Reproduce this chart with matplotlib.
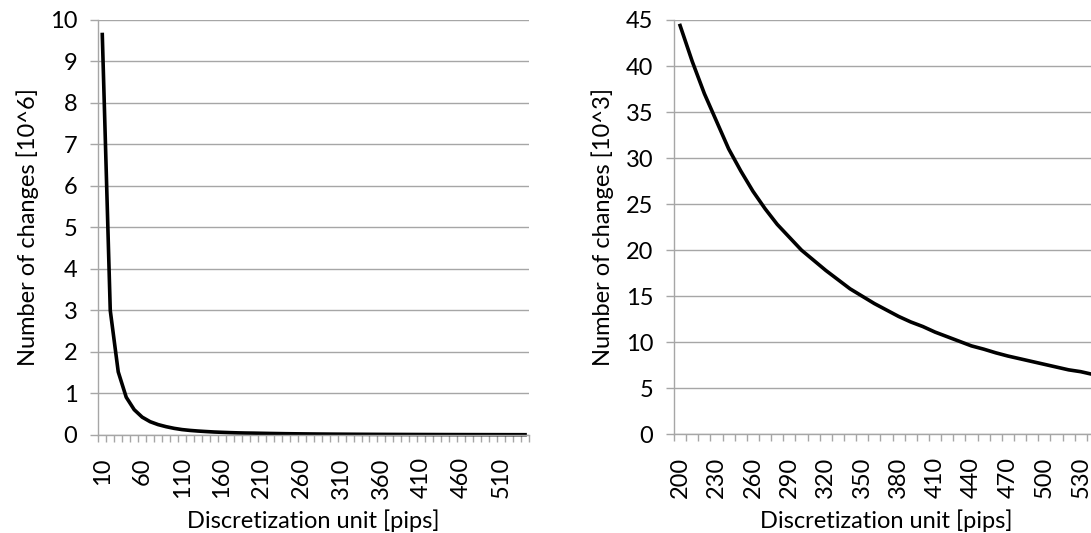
import numpy as np
import matplotlib
matplotlib.use('Agg')
from matplotlib import pyplot as plt
from matplotlib.ticker import FixedLocator, NullFormatter

plt.rcParams['font.family'] = ['Lato', 'DejaVu Sans']

# discretization units [pips]
units_all = list(range(10, 550, 10))
units_zoom = list(range(200, 550, 10))

# number of changes for 10..190 pips [10^6]
changes_low = [9.65, 3.0, 1.52, 0.91, 0.61, 0.43, 0.32, 0.25, 0.20, 0.16,
               0.13, 0.11, 0.095, 0.083, 0.072, 0.064, 0.057, 0.051, 0.047]

# number of changes for 200..540 pips [10^3]
changes_high = [44.4, 40.5, 37.0, 34.0, 31.0, 28.6, 26.4, 24.5, 22.8, 21.4,
                20.0, 18.9, 17.8, 16.8, 15.8, 15.0, 14.2, 13.5, 12.8, 12.2,
                11.7, 11.1, 10.6, 10.1, 9.6, 9.25, 8.85, 8.5, 8.2, 7.9,
                7.6, 7.3, 7.0, 6.8, 6.5]

changes_all = changes_low + [v / 1000.0 for v in changes_high]

grid_col = '#a6a6a6'
fs = 17

fig = plt.figure(figsize=(10.91, 5.33), dpi=100)
ax1 = fig.add_axes([0.0901, 0.1839, 0.3948, 0.7786])
ax2 = fig.add_axes([0.6178, 0.1852, 0.3895, 0.7773])


def style(ax, n, step, labels, ymax, ystep, ylabel):
    x = np.arange(n)
    ax.set_xlim(-0.5, n - 0.5)
    ax.set_ylim(0, ymax)
    ax.set_yticks(np.arange(0, ymax + ystep / 2, ystep))
    ax.set_xticks(x[::step])
    ax.set_xticklabels(labels[::step], rotation=90)
    ax.xaxis.set_minor_locator(FixedLocator(np.arange(n + 1) - 0.5))
    ax.xaxis.set_minor_formatter(NullFormatter())
    ax.tick_params(axis='x', which='major', length=0, pad=16, labelsize=fs)
    ax.tick_params(axis='x', which='minor', length=5, width=1, color=grid_col)
    ax.tick_params(axis='y', length=6, width=1, color=grid_col, pad=9, labelsize=fs)
    ax.grid(axis='y', color=grid_col, lw=1)
    ax.set_axisbelow(True)
    for s in ['top', 'right']:
        ax.spines[s].set_visible(False)
    for s in ['left', 'bottom']:
        ax.spines[s].set_color(grid_col)
        ax.spines[s].set_linewidth(1)
    ax.set_xlabel('Discretization unit [pips]', fontsize=fs, labelpad=8)
    ax.set_ylabel(ylabel, fontsize=fs, labelpad=8)


style(ax1, len(units_all), 5, units_all, 10, 1, 'Number of changes [10^6]')
ax1.plot(np.arange(len(units_all)), changes_all, color='black', lw=2.6,
         solid_joinstyle='round', clip_on=False)

style(ax2, len(units_zoom), 3, units_zoom, 45, 5, 'Number of changes [10^3]')
ax2.plot(np.arange(len(units_zoom)), changes_high, color='black', lw=2.6,
         solid_joinstyle='round', clip_on=False)

fig.savefig('out.png', dpi=100)
